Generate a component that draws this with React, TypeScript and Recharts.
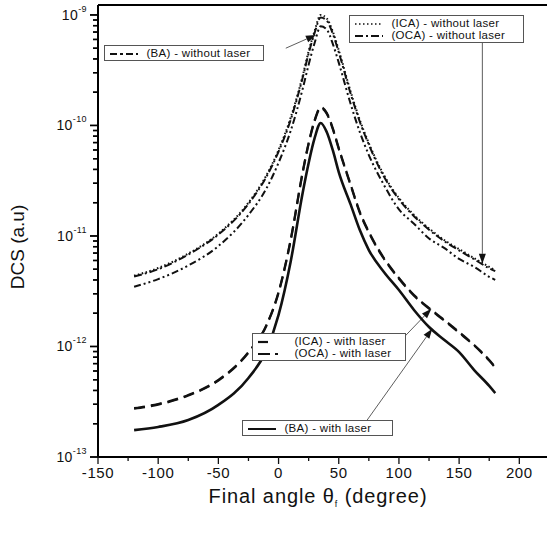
import React from "react";
import { LineChart, Line, XAxis, YAxis, ReferenceLine } from "recharts";

// final angle (degree)
const angles = [-120, -100, -75, -50, -25, -10, 0, 10, 20, 25, 30, 35, 40, 45, 50, 60, 67.5, 75, 87.5, 100, 112.5, 125, 137.5, 150, 162.5, 175, 180];

// without laser
const icaWithout = [4.37e-12, 5.13e-12, 6.92e-12, 1.05e-11, 2.0e-11, 3.55e-11, 6.0e-11, 1.17e-10, 2.8e-10, 4.7e-10, 7.2e-10, 1.0e-9, 9.3e-10, 7.1e-10, 4.8e-10, 2.0e-10, 1.12e-10, 6.9e-11, 3.56e-11, 2.2e-11, 1.55e-11, 1.17e-11, 9.2e-12, 7.6e-12, 6.3e-12, 5.25e-12, 4.9e-12];
const ocaWithout = [4.3e-12, 5.0e-12, 6.8e-12, 1.03e-11, 1.95e-11, 3.45e-11, 5.8e-11, 1.12e-10, 2.7e-10, 4.5e-10, 6.9e-10, 9.5e-10, 8.9e-10, 6.8e-10, 4.6e-10, 1.92e-10, 1.08e-10, 6.7e-11, 3.45e-11, 2.15e-11, 1.51e-11, 1.14e-11, 9.0e-12, 7.4e-12, 6.15e-12, 5.1e-12, 4.8e-12];
const baWithout = [3.47e-12, 4.07e-12, 5.4e-12, 8.1e-12, 1.55e-11, 2.7e-11, 4.6e-11, 8.9e-11, 2.14e-10, 3.55e-10, 5.6e-10, 7.9e-10, 7.4e-10, 5.5e-10, 3.7e-10, 1.55e-10, 8.7e-11, 5.4e-11, 2.9e-11, 1.74e-11, 1.29e-11, 9.5e-12, 7.8e-12, 6.2e-12, 5.25e-12, 4.27e-12, 4.0e-12];

// with laser
const icaWith = [2.77e-13, 3.02e-13, 3.64e-13, 4.98e-13, 8.91e-13, 1.57e-12, 3.11e-12, 9.2e-12, 3.79e-11, 6.95e-11, 1.12e-10, 1.47e-10, 1.3e-10, 9.48e-11, 6.25e-11, 2.9e-11, 1.65e-11, 1.09e-11, 6.32e-12, 4.17e-12, 2.92e-12, 2.23e-12, 1.74e-12, 1.35e-12, 1.03e-12, 7.55e-13, 6.52e-13];
const ocaWith = [2.74e-13, 2.98e-13, 3.6e-13, 4.92e-13, 8.8e-13, 1.55e-12, 3.06e-12, 9.05e-12, 3.72e-11, 6.82e-11, 1.1e-10, 1.44e-10, 1.28e-10, 9.3e-11, 6.14e-11, 2.85e-11, 1.62e-11, 1.07e-11, 6.22e-12, 4.1e-12, 2.88e-12, 2.2e-12, 1.72e-12, 1.33e-12, 1.02e-12, 7.45e-13, 6.44e-13];
const baWith = [1.75e-13, 1.87e-13, 2.16e-13, 2.96e-13, 5.19e-13, 9.29e-13, 1.93e-12, 5.82e-12, 2.45e-11, 4.58e-11, 7.71e-11, 1.054e-10, 8.73e-11, 6.0e-11, 3.79e-11, 1.91e-11, 1.13e-11, 7.46e-12, 4.72e-12, 3.24e-12, 2.14e-12, 1.5e-12, 1.15e-12, 8.9e-13, 6.12e-13, 4.4e-13, 3.79e-13];

const xTicks = [-150, -125, -100, -75, -50, -25, 0, 25, 50, 75, 100, 125, 150, 175, 200];
const decades = [-13, -12, -11, -10, -9];

const X_MIN = -150;
const X_MAX = 223;
const Y_MIN = 1e-13;
const Y_MAX = 1.23e-9;

// chart box
const W = 547;
const H = 540;
const TOP = 5;
const LEFT = 98;
const X_AXIS_H = 83;
const PLOT_H = H - TOP - X_AXIS_H;

const yTicks: number[] = [];
decades.forEach((d) => {
  if (d === -9) {
    yTicks.push(1e-9);
    return;
  }
  for (let m = 1; m <= 9; m++) yTicks.push(m * Math.pow(10, d));
});

const data = angles.map((a, i) => ({
  angle: a,
  icaWithout: icaWithout[i],
  ocaWithout: ocaWithout[i],
  baWithout: baWithout[i],
  icaWith: icaWith[i],
  ocaWith: ocaWith[i],
  baWith: baWith[i],
}));

const FONT = "'Liberation Sans', Arial, sans-serif";
const INK = "#111";

const isMajor = (v: number) => {
  const lg = Math.log10(v);
  return Math.abs(lg - Math.round(lg)) < 1e-6;
};

// tick props x/y sit tickSize (4) + tickMargin (2) away from the axis line
const YTick = (props: any) => {
  const { x, y, payload } = props;
  const e = Math.round(Math.log10(payload.value));
  const major = isMajor(payload.value);
  const ax = x + 6;
  return (
    <g>
      <line x1={ax} x2={ax - (major ? 8 : 5)} y1={y} y2={y} stroke="#000" strokeWidth={1.5} />
      {major && (
        <text x={ax - 11} y={y + 5} textAnchor="end" fontFamily={FONT} fontSize={14} fill={INK} letterSpacing={0.4}>
          10
          <tspan dy={-8} fontSize={9}>{e}</tspan>
        </text>
      )}
    </g>
  );
};

const XTick = (props: any) => {
  const { x, y, payload } = props;
  const major = payload.value % 50 === 0;
  if (!major) return <g />;
  return (
    <g>
      <line x1={x} x2={x} y1={y - 2} y2={y + 1} stroke={INK} strokeWidth={1.3} />
      <text x={x} y={y + 15} textAnchor="middle" fontFamily={FONT} fontSize={15} fill={INK} letterSpacing={0.6}>
        {payload.value}
      </text>
    </g>
  );
};

const Arrow = (props: any) => {
  const { x1, y1, x2, y2 } = props;
  const ang = Math.atan2(y2 - y1, x2 - x1);
  const L = 10;
  const HW = 3.5;
  const bx = x2 - L * Math.cos(ang);
  const by = y2 - L * Math.sin(ang);
  const px = -Math.sin(ang) * HW;
  const py = Math.cos(ang) * HW;
  return (
    <g>
      <line x1={x1} y1={y1} x2={bx} y2={by} stroke="#333" strokeWidth={0.8} />
      <polygon points={`${x2},${y2} ${bx + px},${by + py} ${bx - px},${by - py}`} fill="#111" />
    </g>
  );
};

const Edge = (props: any) => {
  const { x1, y1, x2, y2 } = props;
  return <line x1={x1} y1={y1} x2={x2} y2={y2} stroke="#000" strokeWidth={2} />;
};

// left axis drawn again on top, same log mapping as the chart's y axis
const yPix = (v: number) =>
  TOP + ((Math.log10(Y_MAX) - Math.log10(v)) / (Math.log10(Y_MAX) - Math.log10(Y_MIN))) * PLOT_H;

const LeftAxisOverlay = () => (
  <svg width={W} height={H} style={{ position: "absolute", left: 0, top: 0, pointerEvents: "none" }}>
    <line x1={LEFT} x2={LEFT} y1={TOP} y2={TOP + PLOT_H} stroke="#000" strokeWidth={1.8} />
    {yTicks.map((t) => (
      <line key={t} x1={LEFT} x2={LEFT - (isMajor(t) ? 8 : 5)} y1={yPix(t)} y2={yPix(t)} stroke="#000" strokeWidth={1.3} />
    ))}
  </svg>
);

const boxStyle: React.CSSProperties = {
  position: "absolute",
  border: "1px solid #555",
  background: "#fff",
  fontFamily: FONT,
  fontSize: 11.5,
  letterSpacing: 0.3,
  color: "#111",
  lineHeight: "12px",
  padding: "1px 4px",
  whiteSpace: "nowrap",
};

const Sample = ({ dash, width = 1.5 }: { dash?: string; width?: number }) => (
  <svg width={30} height={8} style={{ verticalAlign: "middle", marginRight: 4 }}>
    <line x1={1} x2={29} y1={4} y2={4} stroke="#111" strokeWidth={width} strokeDasharray={dash} />
  </svg>
);

const XLabel = (props: any) => {
  const { viewBox } = props;
  return (
    <text x={318} y={viewBox.y + 46} textAnchor="middle" fontFamily={FONT} fontSize={20} fill={INK} letterSpacing={0.9}>
      Final angle θ
      <tspan dy={4} fontSize={9}>f</tspan>
      <tspan dy={-4}> (degree)</tspan>
    </text>
  );
};

const YLabel = () => (
  <text
    x={0}
    y={0}
    transform="translate(24, 247) rotate(-90)"
    textAnchor="middle"
    fontFamily="'Liberation Sans Narrow', 'Liberation Sans', sans-serif"
    fontSize={19}
    fill={INK}
  >
    DCS (a.u)
  </text>
);

export default function App() {
  return (
    <div style={{ position: "absolute", left: 0, top: 0, width: W, height: H, background: "#fff" }}>
      <LineChart width={W} height={H} data={data} margin={{ top: TOP, right: 0, bottom: 0, left: 0 }}>
        <XAxis
          dataKey="angle"
          type="number"
          domain={[X_MIN, X_MAX]}
          ticks={xTicks}
          interval={0}
          allowDataOverflow
          height={X_AXIS_H}
          tick={<XTick />}
          tickSize={4}
          tickMargin={2}
          tickLine={{ stroke: INK, strokeWidth: 1.3 }}
          axisLine={{ stroke: "#000", strokeWidth: 2 }}
          label={<XLabel />}
        />
        <YAxis
          scale="log"
          domain={[Y_MIN, Y_MAX]}
          allowDataOverflow
          ticks={yTicks}
          interval={0}
          width={LEFT}
          tick={<YTick />}
          tickSize={4}
          tickMargin={2}
          tickLine={false}
          axisLine={{ stroke: "#000", strokeWidth: 2 }}
          label={<YLabel />}
        />
        <ReferenceLine segment={[{ x: X_MIN, y: Y_MAX }, { x: X_MAX, y: Y_MAX }]} shape={<Edge />} ifOverflow="visible" />
        <ReferenceLine segment={[{ x: 6, y: 5.0e-10 }, { x: 31, y: 6.6e-10 }]} shape={<Arrow />} ifOverflow="visible" />
        <ReferenceLine segment={[{ x: 169.3, y: 5.7e-10 }, { x: 169.3, y: 5.6e-12 }]} shape={<Arrow />} ifOverflow="visible" />
        <ReferenceLine segment={[{ x: 104.4, y: 1.22e-12 }, { x: 127, y: 2.2e-12 }]} shape={<Arrow />} ifOverflow="visible" />
        <ReferenceLine segment={[{ x: 73.6, y: 2.16e-13 }, { x: 127.7, y: 1.45e-12 }]} shape={<Arrow />} ifOverflow="visible" />
        <Line dataKey="icaWithout" type="monotone" stroke="#111" strokeWidth={2} strokeDasharray="1.5 2.5" dot={false} isAnimationActive={false} />
        <Line dataKey="ocaWithout" type="monotone" stroke="#111" strokeWidth={2} strokeDasharray="8 3 2 3" dot={false} isAnimationActive={false} />
        <Line dataKey="baWithout" type="monotone" stroke="#111" strokeWidth={2} strokeDasharray="7 3 2 3 2 3" dot={false} isAnimationActive={false} />
        <Line dataKey="icaWith" type="monotone" stroke="#111" strokeWidth={2.2} strokeDasharray="11 6" dot={false} isAnimationActive={false} />
        <Line dataKey="ocaWith" type="monotone" stroke="#111" strokeWidth={2.2} strokeDasharray="11 6" dot={false} isAnimationActive={false} />
        <Line dataKey="baWith" type="monotone" stroke="#111" strokeWidth={2.6} dot={false} isAnimationActive={false} />
      </LineChart>

      <LeftAxisOverlay />

      <div style={{ ...boxStyle, left: 349, top: 15, width: 165 }}>
        <div><Sample dash="1.5 2.5" /> (ICA) - without laser</div>
        <div><Sample dash="8 3 2 3" width={2} /> (OCA) - without laser</div>
      </div>
      <div style={{ ...boxStyle, left: 104, top: 45, width: 150 }}>
        <div><Sample dash="7 3 3 3" width={2} /> (BA) - without laser</div>
      </div>
      <div style={{ ...boxStyle, left: 252, top: 333, width: 144 }}>
        <div><Sample dash="10 30" width={2.2} /> (ICA) - with laser</div>
        <div><Sample dash="12 5 3 30" width={2.2} /> (OCA) - with laser</div>
      </div>
      <div style={{ ...boxStyle, left: 242, top: 420, width: 141 }}>
        <div><Sample width={2} /> (BA) - with laser</div>
      </div>
    </div>
  );
}
